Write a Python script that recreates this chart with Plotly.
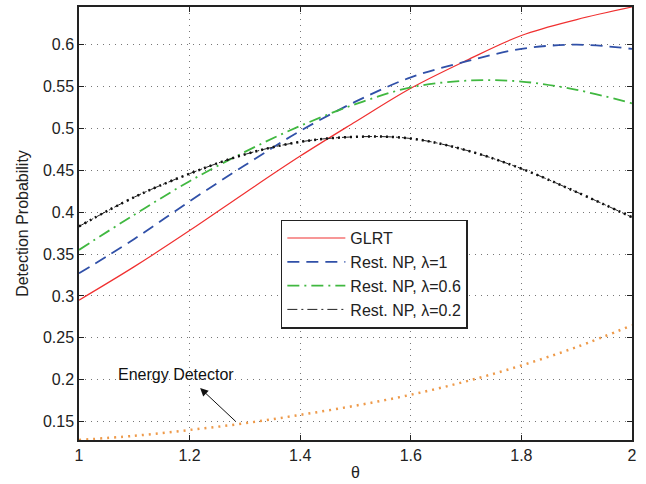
import plotly.graph_objects as go

# values
theta = [1.0, 1.1, 1.2, 1.3, 1.4, 1.5, 1.6, 1.7, 1.8, 1.9, 2.0]
glrt = [0.295, 0.335, 0.378, 0.423, 0.467, 0.508, 0.548, 0.581, 0.611, 0.630, 0.645]
np_l1 = [0.327, 0.368, 0.413, 0.456, 0.497, 0.532, 0.561, 0.580, 0.595, 0.600, 0.595]
np_l06 = [0.355, 0.397, 0.437, 0.472, 0.503, 0.529, 0.549, 0.557, 0.556, 0.546, 0.530]
np_l02 = [0.383, 0.418, 0.446, 0.469, 0.484, 0.490, 0.488, 0.474, 0.452, 0.424, 0.394]
energy = [0.128, 0.133, 0.140, 0.148, 0.158, 0.169, 0.182, 0.198, 0.217, 0.239, 0.265]

x_ticks = [1, 1.2, 1.4, 1.6, 1.8, 2]
y_ticks = [0.15, 0.2, 0.25, 0.3, 0.35, 0.4, 0.45, 0.5, 0.55, 0.6]

FONT = "Liberation Sans, Arial, sans-serif"
FS = 16

fig = go.Figure()

fig.add_trace(go.Scatter(x=theta, y=energy, mode="lines", line_shape="spline",
                         line=dict(color="#EE9A4A", width=2.5, dash="2px,5px"),
                         showlegend=False))
fig.add_trace(go.Scatter(x=theta, y=glrt, mode="lines", line_shape="spline", name="GLRT",
                         line=dict(color="#F03030", width=1.2)))
fig.add_trace(go.Scatter(x=theta, y=np_l1, mode="lines", line_shape="spline", name="Rest. NP, λ=1",
                         line=dict(color="#3050A8", width=1.8, dash="12px,7px")))
fig.add_trace(go.Scatter(x=theta, y=np_l06, mode="lines", line_shape="spline", name="Rest. NP, λ=0.6",
                         line=dict(color="#40B840", width=1.8, dash="12px,5px,2px,5px")))
fig.add_trace(go.Scatter(x=theta, y=np_l02, mode="lines", line_shape="spline", name="Rest. NP, λ=0.2",
                         line=dict(color="#222222", width=1, dash="10px,4px,2px,4px")))
# dotted overlay for the λ=0.2 curve
fig.add_trace(go.Scatter(x=theta, y=np_l02, mode="lines", line_shape="spline",
                         showlegend=False, line=dict(color="#111111", width=2.5, dash="2px,4px")))

fig.add_annotation(x=1.219, y=0.190, ax=1.286, ay=0.1485, xref="x", yref="y", axref="x", ayref="y",
                   text="", showarrow=True, arrowhead=2, arrowsize=1.6, arrowwidth=1, arrowcolor="#111")
fig.add_annotation(x=1.175, y=0.2064, text="Energy Detector", showarrow=False,
                   font=dict(family=FONT, size=FS, color="#111"))

axis_style = dict(showline=True, linecolor="#222", linewidth=1.5, mirror="ticks",
                  ticks="inside", ticklen=5, tickcolor="#222",
                  showgrid=True, gridcolor="#777", griddash="1px,5px", gridwidth=1,
                  zeroline=False, tickfont=dict(family=FONT, size=FS, color="#222"))

fig.update_xaxes(range=[1, 2], tickvals=x_ticks, ticktext=["1", "1.2", "1.4", "1.6", "1.8", "2"],
                 title=dict(text="θ", font=dict(family=FONT, size=FS, color="#222"), standoff=4),
                 **axis_style)
fig.update_yaxes(range=[0.128, 0.645], tickvals=y_ticks,
                 ticktext=[f"{v:g}" for v in y_ticks],
                 title=dict(text="Detection Probability", font=dict(family=FONT, size=FS, color="#222"), standoff=10),
                 **axis_style)

fig.update_layout(
    width=646, height=484,
    margin=dict(l=79, r=14, t=5, b=43),
    plot_bgcolor="white", paper_bgcolor="white",
    legend=dict(x=0.365, y=0.509, xanchor="left", yanchor="top",
                bgcolor="white", bordercolor="#222", borderwidth=1.5,
                font=dict(family=FONT, size=FS, color="#222"),
                itemwidth=58),
    font=dict(family=FONT),
)

fig.write_html("out.html", config={"displayModeBar": False},
               post_script="document.body.style.margin='0';")
